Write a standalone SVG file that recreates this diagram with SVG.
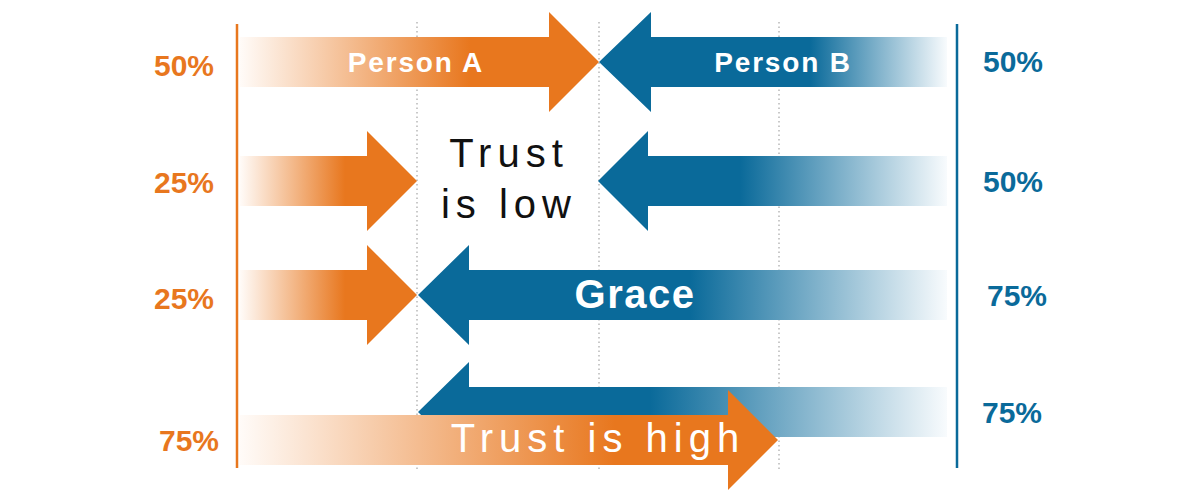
<svg xmlns="http://www.w3.org/2000/svg" width="1200" height="500" viewBox="0 0 1200 500">
<style>
.pct{font-family:"Liberation Sans",Arial,sans-serif;font-weight:bold;font-size:30px;text-anchor:middle}
.po{fill:#E8771E}
.pb{fill:#0A6A9A}
.lbl{font-family:"Liberation Sans",Arial,sans-serif;font-weight:bold;fill:#fff;text-anchor:middle}
.big{font-family:"Liberation Sans",Arial,sans-serif;font-size:40px;letter-spacing:6px;text-anchor:middle}
.dot{stroke:#b8b8b8;stroke-width:1.5;stroke-dasharray:1.5 3;fill:none}
</style>
<defs>
<linearGradient id="gA" gradientUnits="userSpaceOnUse" x1="240" y1="0" x2="470" y2="0"><stop offset="0" stop-color="#FFFBF8"/><stop offset="1" stop-color="#E8771E"/></linearGradient>
<linearGradient id="gB" gradientUnits="userSpaceOnUse" x1="947" y1="0" x2="810" y2="0"><stop offset="0" stop-color="#F8FBFD"/><stop offset="1" stop-color="#0A6A9A"/></linearGradient>
<linearGradient id="gC" gradientUnits="userSpaceOnUse" x1="240" y1="0" x2="345" y2="0"><stop offset="0" stop-color="#FFFBF8"/><stop offset="1" stop-color="#E8771E"/></linearGradient>
<linearGradient id="gD" gradientUnits="userSpaceOnUse" x1="947" y1="0" x2="740" y2="0"><stop offset="0" stop-color="#F8FBFD"/><stop offset="1" stop-color="#0A6A9A"/></linearGradient>
<linearGradient id="gE" gradientUnits="userSpaceOnUse" x1="947" y1="0" x2="690" y2="0"><stop offset="0" stop-color="#F8FBFD"/><stop offset="1" stop-color="#0A6A9A"/></linearGradient>
<linearGradient id="gF" gradientUnits="userSpaceOnUse" x1="947" y1="0" x2="650" y2="0"><stop offset="0" stop-color="#F8FBFD"/><stop offset="1" stop-color="#0A6A9A"/></linearGradient>
<linearGradient id="gG" gradientUnits="userSpaceOnUse" x1="240" y1="0" x2="615" y2="0"><stop offset="0" stop-color="#FFFBF8"/><stop offset="1" stop-color="#E8771E"/></linearGradient>
</defs>
<rect width="1200" height="500" fill="#fff"/>
<g id="connectors">
<line class="dot" x1="417" y1="22" x2="417" y2="470"/>
<line class="dot" x1="599" y1="22" x2="599" y2="470"/>
<line class="dot" x1="779" y1="22" x2="779" y2="470"/>
<line x1="237" y1="24" x2="237" y2="468" stroke="#E8771E" stroke-width="2.5"/>
<line x1="957" y1="24" x2="957" y2="468" stroke="#0A6A9A" stroke-width="2.5"/>
</g>
<g id="personA">
<polygon points="240,37 549,37 549,12 599,62 549,112 549,87 240,87" fill="url(#gA)"/>
<text class="lbl" x="416" y="72" font-size="28" letter-spacing="1.8">Person A</text>
</g>
<g id="personB">
<polygon points="599,62 651,12 651,37 947,37 947,87 651,87 651,112" fill="url(#gB)"/>
<text class="lbl" x="783" y="72" font-size="28" letter-spacing="1.8">Person B</text>
</g>
<g id="row2A"><polygon points="240,156 367,156 367,131 417,181 367,231 367,206 240,206" fill="url(#gC)"/></g>
<g id="row2B"><polygon points="598,181 648,131 648,156 947,156 947,206 648,206 648,231" fill="url(#gD)"/></g>
<g id="trustLow">
<text class="big" x="509" y="167" fill="#111">Trust</text>
<text class="big" x="509" y="218" fill="#111">is low</text>
</g>
<g id="row3A"><polygon points="240,270 367,270 367,245 417,295 367,345 367,320 240,320" fill="url(#gC)"/></g>
<g id="grace">
<polygon points="418,295 469,245 469,270 947,270 947,320 469,320 469,345" fill="url(#gE)"/>
<text class="lbl" x="635" y="308" font-size="40" letter-spacing="1.5">Grace</text>
</g>
<g id="row4B"><polygon points="418,412 469,362 469,387 947,387 947,437 469,437 469,462" fill="url(#gF)"/></g>
<g id="trustHigh">
<polygon points="240,415 728,415 728,390 778,440 728,490 728,465 240,465" fill="url(#gG)"/>
<text class="big" x="598" y="452" fill="#fff">Trust is high</text>
</g>
<g id="labels">
<text class="pct po" x="184" y="76">50%</text>
<text class="pct po" x="184" y="193">25%</text>
<text class="pct po" x="184" y="309">25%</text>
<text class="pct po" x="189" y="451">75%</text>
<text class="pct pb" x="1013" y="72">50%</text>
<text class="pct pb" x="1013" y="192">50%</text>
<text class="pct pb" x="1017" y="306">75%</text>
<text class="pct pb" x="1012" y="423">75%</text>
</g>
</svg>
